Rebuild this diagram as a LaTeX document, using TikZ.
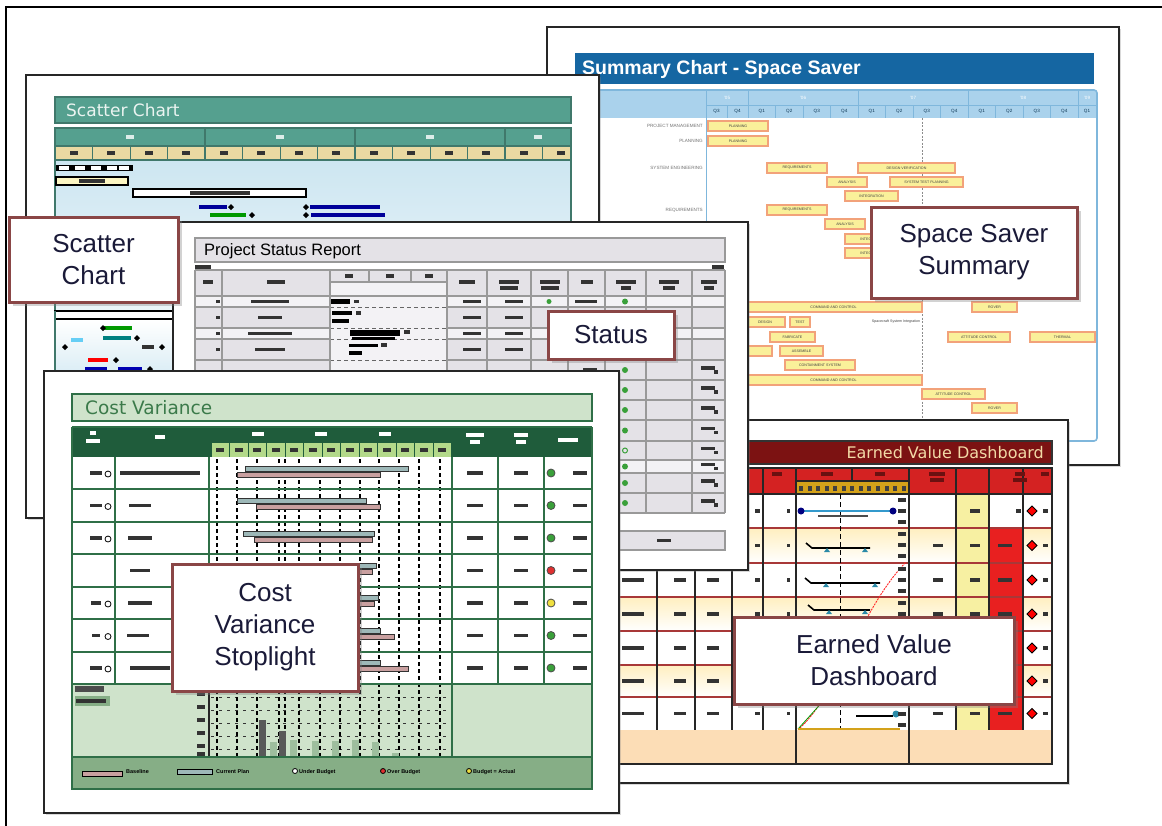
\documentclass[tikz,border=0pt]{standalone}
\usepackage{fontspec}
\setmainfont{Liberation Sans}
\newfontfamily\thinfont{DejaVu Sans}
\usepackage{tikz}
\usetikzlibrary{positioning,shadows,calc}

\definecolor{calloutred}{HTML}{8A4646}
\definecolor{callouttext}{HTML}{1A1A38}
\definecolor{sumblue}{HTML}{1566A2}
\definecolor{sumlight}{HTML}{AAD2EC}
\definecolor{sumedge}{HTML}{7FB7DC}
\definecolor{barfill}{HTML}{FAF09A}
\definecolor{baredge}{HTML}{F2A27A}
\definecolor{scteal}{HTML}{55A08F}
\definecolor{sctan}{HTML}{E9D9A2}
\definecolor{scsky}{HTML}{CDE6F1}
\definecolor{stgray}{HTML}{E4E2E7}
\definecolor{stpale}{HTML}{F3F2F5}
\definecolor{stedge}{HTML}{999999}
\definecolor{cvdark}{HTML}{1F5C3B}
\definecolor{cvlight}{HTML}{CFE3CB}
\definecolor{cvmid}{HTML}{86AE86}
\definecolor{cvq}{HTML}{B3D98A}
\definecolor{cvline}{HTML}{2F6F47}
\definecolor{cvtext}{HTML}{3B7A4A}
\definecolor{cvpink}{HTML}{C9A0A0}
\definecolor{cvteal}{HTML}{9DB8B8}
\definecolor{stopgreen}{HTML}{3AA03A}
\definecolor{stopred}{HTML}{E03030}
\definecolor{stopyellow}{HTML}{F0E040}
\definecolor{evdark}{HTML}{7C1212}
\definecolor{evred}{HTML}{D42222}
\definecolor{evbright}{HTML}{E82020}
\definecolor{evline}{HTML}{A83838}
\definecolor{evgold}{HTML}{D4A21A}
\definecolor{evcream}{HTML}{FFEFC0}
\definecolor{evyellow}{HTML}{F7F0A2}
\definecolor{evpeach}{HTML}{FCDDB6}
\definecolor{evtitle}{HTML}{F2D9A6}
\definecolor{evblue}{HTML}{3399CC}
\definecolor{evteal}{HTML}{2A8AA8}

\tikzset{
  sheet/.style={draw=black!85, line width=1.3pt, fill=white, drop shadow={opacity=.3, shadow xshift=2pt, shadow yshift=-2pt}},
  callout/.style={draw=calloutred, line width=3pt, fill=white, align=center, text=callouttext, inner sep=0pt,
    font=\fontsize{26}{32}\selectfont, drop shadow={opacity=.35, shadow xshift=4pt, shadow yshift=-4pt}},
  gbar/.style={draw=baredge, fill=barfill, line width=1.1pt},
  gtext/.style={font=\fontsize{3.6}{4}\selectfont, text=black!75, inner sep=0pt},
  tinytext/.style={font=\fontsize{4.6}{5}\selectfont, inner sep=0pt},
  dashv/.style={black, line width=1.1pt, dash pattern=on 4pt off 3pt},
  stgrid/.style={draw=stedge, line width=1.1pt},
  cvgrid/.style={draw=cvline, line width=1.4pt},
  evgrid/.style={draw=black!85, line width=1.1pt},
}

\newcommand{\inkmark}[4][black!80]{\fill[#1] (#2-#4/2,#3-1.8) rectangle (#2+#4/2,#3+1.8);}
\newcommand{\taskbar}[4]{\draw[gbar] (#1,#3-5) rectangle (#2,#3+5); \node[gtext] at ({(#1+#2)/2},#3) {#4};}
\newcommand{\scdot}[3][black]{\fill[#1] (#2,#3-3) -- (#2+3,#3) -- (#2,#3+3) -- (#2-3,#3) -- cycle;}
\newcommand{\evdiamond}[2]{\draw[black, line width=1pt, fill=red] (#1,#2-5) -- (#1+5,#2) -- (#1,#2+5) -- (#1-5,#2) -- cycle;}

\begin{document}
\begin{tikzpicture}[x=1pt, y=-1pt]
\useasboundingbox (0,0) rectangle (1162,825);

% summary chart, space saver
\path[sheet] (547,27) rectangle (1119,465);
\fill[sumblue] (575,53) rectangle (1094,84);
\node[anchor=west, text=white, font=\bfseries\fontsize{19.5}{19.5}\selectfont, inner sep=0pt] (sumtitle) at (582,69) {Summary Chart - Space Saver};
\fill[sumlight] (576,91) rectangle (1096,118);
\draw[sumedge, line width=1.6pt, rounded corners=3pt] (575,90) rectangle (1097,441);
\draw[sumedge] (706,105) -- (1096,105);
\foreach \xx in {706,748,858,968,1078} \draw[sumedge, line width=1pt] (\xx,91) -- (\xx,118);
\foreach \k in {1,...,12} \draw[sumedge, line width=.6pt] (748+27.5*\k,105) -- (748+27.5*\k,118);
\draw[sumedge, line width=.6pt] (727,105) -- (727,118);
\draw[sumedge] (706,118) -- (706,440);
\draw[black!45, dash pattern=on 2pt off 1.5pt] (922,118) -- (922,440);
\foreach \xx/\yr in {727/05,803/06,913/07,1023/08,1087/09} \node[tinytext, text=white] at (\xx,98) {'\yr};
\node[tinytext, text=sumblue!50!black] at (716.5,111.5) {Q3};
\node[tinytext, text=sumblue!50!black] at (737.5,111.5) {Q4};
\foreach \k in {0,...,11} {\pgfmathtruncatemacro\qq{mod(\k,4)+1}
  \node[tinytext, text=sumblue!50!black] at (761.75+27.5*\k,111.5) {Q\qq};}
\node[tinytext, text=sumblue!50!black] at (1087,111.5) {Q1};
\foreach \yy/\lbl in {126/PROJECT MANAGEMENT,141/PLANNING,168/SYSTEM ENGINEERING,210/REQUIREMENTS}
  \node[gtext, anchor=east, text=black!55, font=\fontsize{4.6}{5}\selectfont] at (703,\yy) {\lbl};
\foreach \xa/\xb/\yy/\lbl in {708/768/126/PLANNING, 708/768/141/PLANNING, 767/827/168/REQUIREMENTS,
    858/955/168/DESIGN VERIFICATION, 827/867/182/ANALYSIS, 890/963/182/SYSTEM TEST PLANNING,
    845/898/196/INTEGRATION, 767/827/210/REQUIREMENTS, 825/865/224/ANALYSIS, 845/900/239/INTEGRATION,
    845/900/253/INTEGRATION, 745/922/307/COMMAND AND CONTROL, 972/1017/307/ROVER, 745/785/322/DESIGN,
    790/810/322/TEST, 770/815/337/FABRICATE, 948/1010/337/ATTITUDE CONTROL, 1030/1095/337/THERMAL,
    780/823/351/ASSEMBLE, 785/855/365/CONTAINMENT SYSTEM, 745/922/380/COMMAND AND CONTROL,
    922/985/394/ATTITUDE CONTROL, 972/1017/408/ROVER}
  \taskbar{\xa}{\xb}{\yy}{\lbl};
\draw[gbar] (745,346) rectangle (772,356);
\node[gtext] at (896,322) {Spacecraft System Integration};

% earned value dashboard
\path[sheet] (560,420) rectangle (1068,783);
\draw[fill=evdark, draw=black!80, line width=1.2pt] (578,441) rectangle (1052,464);
\node[anchor=east, text=evtitle, font=\thinfont\fontsize{16}{16}\selectfont, inner sep=0pt] (evtitle) at (1044,452.5) {Earned Value Dashboard};
\fill[evred] (578,468) rectangle (1052,494);
\foreach \ya/\yb in {528/563,597/631,665/697} \shade[top color=evcream, bottom color=white] (578,\ya) rectangle (1052,\yb);
\fill[evyellow] (956,494) rectangle (989,730);
\fill[evbright] (989,528) rectangle (1023,730);
\fill[evpeach] (578,730) rectangle (1052,764);
\fill[evgold] (797,482) rectangle (908,494);
\foreach \k in {0,...,12} \fill[black!75] (799+8.55*\k,486) rectangle (803+8.55*\k,491);
\foreach \yy in {528,563,597,631,665,697} \draw[evline, line width=1.3pt] (578,\yy) -- (1052,\yy);
\foreach \xx in {657,695,732,763,796,909,956,989,1023} \draw[evgrid] (\xx,468) -- (\xx,730);
\draw[evgrid] (578,494) -- (1052,494) (796,481) -- (909,481) (852,468) -- (852,481) (796,730) -- (796,764) (909,730) -- (909,764);
\draw[evgrid] (578,468) rectangle (1052,764);
\foreach \xx/\ww in {777/10,827/12,880/10,937/16,1020/10,1045/8} \inkmark[evred!50!black]{\xx}{474}{\ww};
\foreach \xx in {937,1020} \inkmark[evred!50!black]{\xx}{480}{14};
\draw[black, line width=1pt, dash pattern=on 5pt off 3pt] (840,494) -- (840,730);
\draw[evblue, line width=2.5pt] (801,511) -- (893,511);
\fill[blue!50!black] (801,511) circle[radius=3.5pt] (893,511) circle[radius=3.5pt];
\draw[black!70, line width=1.5pt] (818,516) -- (868,516);
\foreach \xa/\xb/\yy in {806/870/548,805/880/583,808/870/610} {
  \draw[black, line width=1.6pt] (\xa,\yy-5) -- (\xa+6,\yy) -- (\xb,\yy);
  \fill[evteal] (\xa+18,\yy+4) -- (\xa+21,\yy) -- (\xa+24,\yy+4) -- cycle;
  \fill[evteal] (\xb-8,\yy+4) -- (\xb-5,\yy) -- (\xb-2,\yy+4) -- cycle;}
\draw[black, line width=2pt] (856,716) -- (893,716);
\fill[evteal] (896,714) circle[radius=3.5pt];
\draw[red!85, line width=.9pt, dash pattern=on 2pt off 1pt] (800,728) .. controls (840,690) and (860,610) .. (906,562);
\draw[green!60!black, line width=.8pt] (798,729) -- (826,698);
\draw[evgold, line width=1.5pt] (798,729) -- (900,729);
\foreach \yy in {494,528,563,597,631,665,697} {
  \inkmark{902}{\yy+6}{8} \inkmark{902}{\yy+17}{8} \inkmark{902}{\yy+28}{8}}
\foreach \yy in {511,545.5,580,614,648,681,713.5} {
  \evdiamond{1032}{\yy} \inkmark{1045}{\yy}{5} \inkmark{757}{\yy}{5} \inkmark{788}{\yy}{3}}
\foreach \yy in {580,614,648,681,713.5} {
  \inkmark{633}{\yy}{22} \inkmark{680}{\yy}{12} \inkmark{713}{\yy}{12}}
\foreach \yy/\ww in {545.5/10,580/10,614/10,713.5/10} \inkmark{938}{\yy}{\ww};
\foreach \yy in {511,545.5,580,614,648,681,713.5} \inkmark{975}{\yy}{10};
\foreach \yy in {545.5,580,614,648,681,713.5} \inkmark{1005}{\yy}{14};
\inkmark{1018}{511}{5}

% scatter chart
\path[sheet] (26,75) rectangle (599,518);
\draw[fill=scteal, draw=scteal!75!black, line width=1.5pt] (55,97) rectangle (571,123);
\node[anchor=west, text=white!88!scteal, font=\thinfont\fontsize{17}{17}\selectfont, inner sep=0pt] (sctitle) at (66,110.5) {Scatter Chart};
\fill[scteal] (55,128) rectangle (571,146);
\fill[sctan] (55,146) rectangle (571,160);
\shade[top color=scsky, bottom color=scsky!40] (55,160) rectangle (571,311);
\draw[scteal!75!black, line width=1.5pt] (55,128) rectangle (571,160);
\draw[scteal!75!black, line width=1.5pt] (55,146) -- (571,146) (55,160) -- (55,371) (571,160) -- (571,300);
\foreach \xx in {205,355,505} \draw[scteal!75!black, line width=1.5pt] (\xx,128) -- (\xx,160);
\foreach \k in {1,...,13} \draw[scteal!75!black, line width=1pt] (55+37.5*\k,146) -- (55+37.5*\k,160);
\foreach \xx in {130,280,430,538} \inkmark[white!80!scteal]{\xx}{137}{8};
\foreach \k in {0,...,13} \inkmark{73.75+37.5*\k}{153}{8};
\fill[black] (56,165) rectangle (133,171);
\foreach \xx in {64,80,96,112,124} \inkmark[white]{\xx}{168}{10};
\draw[black, line width=1.2pt, fill=barfill!60] (56,177) rectangle (128,185);
\inkmark{92}{181}{26}
\draw[black, line width=1.2pt, fill=white] (133,189) rectangle (306,197);
\inkmark{220}{193}{60}
\inkmark[blue!60!black]{213}{207}{28} \scdot{231}{207}
\inkmark[green!60!black]{228}{215}{36} \scdot{252}{215}
\inkmark[blue!60!black]{345}{207}{70} \scdot{306}{207}
\inkmark[blue!60!black]{348}{215}{74} \scdot{306}{215}
\draw[black, line width=1.2pt, fill=white] (55,311) rectangle (178,319);
\shade[top color=white, bottom color=scsky!70] (56,320) rectangle (178,371);
\draw[scteal!75!black, line width=1.5pt] (55,311) -- (55,371);
\inkmark[green!60!black]{118}{328}{28} \scdot{103}{328}
\inkmark[teal]{117}{338}{28} \scdot{137}{338}
\inkmark[cyan!60]{77}{340}{12} \scdot{65}{347}
\inkmark{148}{347}{12} \scdot{162}{347}
\inkmark[red]{98}{360}{20} \scdot{116}{360}
\inkmark[blue!70!black]{96}{369}{22} \inkmark[blue!70!black]{130}{369}{24} \scdot{150}{369}

% project status report
\path[sheet] (173,222) rectangle (748,570);
\draw[fill=stgray, draw=stedge, line width=1.5pt] (195,238) rectangle (725,262);
\node[anchor=west, font=\fontsize{16.5}{16.5}\selectfont, inner sep=0pt] (sttitle) at (204,251) {Project Status Report};
\inkmark{203}{267}{16} \inkmark{718}{267}{12}
\fill[stgray] (195,270) rectangle (725,513);
\foreach \ya/\yb in {296/307,328/339,460/473} \fill[stpale] (195,\ya) rectangle (725,\yb);
\fill[stpale] (330,282) rectangle (447,513);
\foreach \yy in {307,328,339,360,380,400,420,441,460,473,493} {
  \draw[stgrid] (195,\yy) -- (330,\yy) (447,\yy) -- (725,\yy);
  \draw[black!60, line width=1pt, dash pattern=on 4pt off 3pt] (330,\yy) -- (447,\yy);}
\foreach \xx in {195,222,330,447,487,531,568,605,646,692,725} \draw[stgrid] (\xx,270) -- (\xx,513);
\draw[stgrid] (195,270) -- (725,270) (195,296) -- (725,296) (195,513) -- (725,513) (330,282) -- (447,282) (369,270) -- (369,282) (411,270) -- (411,282);
\foreach \xx/\ww in {208/10,276/18,467/16,509/20,549.5/20,586.5/12,625.5/20,669/20,708.5/16} \inkmark{\xx}{282}{\ww};
\foreach \xx/\ww in {509/18,549.5/18,625.5/10,669/12,708.5/10} \inkmark{\xx}{288}{\ww};
\foreach \xx in {349,390,429} \inkmark{\xx}{276}{8};
\foreach \yy/\ww in {301.5/38,317.5/24,333.5/44,349.5/30} {\inkmark{218}{\yy}{4} \inkmark{270}{\yy}{\ww}}
\foreach \yy in {301.5,317.5,333.5,349.5} {\inkmark{472}{\yy}{18} \inkmark{514}{\yy}{18}}
\inkmark{586}{301.5}{22} \fill[stopgreen] (549,301.5) circle[radius=2.5pt];
\foreach \yy in {370,390,410,430.5,450.5,466.5,483,503} {\inkmark{590}{\yy}{14} \inkmark{708}{\yy-2}{14} \inkmark{716}{\yy+2}{4}}
\foreach \yy in {301.5,370,390,410,430.5,466.5,483,503} \fill[stopgreen] (625,\yy) circle[radius=3pt];
\draw[stopgreen, line width=1pt] (625,450.5) circle[radius=2.5pt];
\fill[black] (331,299) rectangle (350,304); \inkmark{356}{301.5}{5}
\fill[black] (332,311) rectangle (352,315); \fill[black] (332,319) rectangle (349,323); \inkmark{358}{313}{5}
\fill[black] (350,330) rectangle (400,336); \fill[black] (352,337) rectangle (395,340); \inkmark{407}{332}{6}
\fill[black] (349,344) rectangle (378,347); \fill[black] (349,351) rectangle (362,355); \inkmark{384}{345}{6}
\draw[fill=stgray, draw=stedge, line width=1.5pt] (590,531) rectangle (725,550);
\inkmark{664}{540.5}{14}

% cost variance
\path[sheet] (44,371) rectangle (619,813);
\draw[fill=cvlight, draw=cvline, line width=1.5pt] (72,394) rectangle (592,421);
\node[anchor=west, text=cvtext, font=\thinfont\fontsize{18.5}{18.5}\selectfont, inner sep=0pt] (cvtitle) at (85,408) {Cost Variance};
\fill[cvdark] (72,427) rectangle (592,457);
\fill[cvq] (211,443) rectangle (452,457);
\foreach \k in {0,...,13} \draw[cvdark, line width=.8pt] (211+18.5*\k,443) -- (211+18.5*\k,457);
\foreach \k in {0,...,12} \inkmark{220.25+18.5*\k}{450}{8};
\foreach \xx/\yy/\ww in {93/433/6,93/441/14,160/437/10,258/434/12,321/434/12,385/434/12,475/435/18,475/442/10,521/435/14,521/442/10,568/440/20}
  \inkmark[white]{\xx}{\yy}{\ww};
\fill[white] (72,457) rectangle (592,684);
\fill[cvlight] (72,684) rectangle (592,756);
\foreach \yy in {697,710,723,736,749} \draw[black!80, line width=1pt, dash pattern=on 3pt off 5pt] (211,\yy) -- (452,\yy);
\foreach \xx in {217,237,257,279,285,299,320,340,360,379,399,419,440} \draw[dashv] (\xx,459) -- (\xx,756);
\foreach \yy in {489,522,554,587,619,652,684} \draw[cvgrid] (72,\yy) -- (592,\yy);
\foreach \xx in {115,209,452,498,544} \draw[cvgrid] (\xx,457) -- (\xx,684);
\draw[cvgrid] (72,427) -- (72,789) (592,427) -- (592,789) (72,427) -- (592,427) (452,684) -- (452,756);
\draw[black!85, line width=1.5pt] (209,684) -- (209,756);
\foreach \xa/\xb/\ya/\xc/\xd/\yb in {245/408/469/237/380/475, 237/366/501/256/380/507, 243/374/534/254/372/540,
    260/376/566/262/372/572, 330/378/598/330/374/604, 300/380/631/300/394/637, 290/380/663/290/408/669} {
  \draw[black!80, fill=cvteal, line width=.8pt] (\xa,\ya-2.5) rectangle (\xb,\ya+2.5);
  \draw[black!80, fill=cvpink, line width=.8pt] (\xc,\yb-2.5) rectangle (\xd,\yb+2.5);}
\foreach \yy/\col in {473/stopgreen,505.5/stopgreen,538/stopgreen,570.5/stopred,603/stopyellow,635.5/stopgreen,668/stopgreen}
  {\draw[fill=\col, draw=black!70, line width=.8pt] (551,\yy) circle[radius=4pt]; \inkmark{580}{\yy}{14} \inkmark{475}{\yy}{16} \inkmark{521}{\yy}{14}}
\foreach \yy/\ww in {473/12,505.5/12,538/12,603/10,635.5/8,668/12} {\inkmark{96}{\yy}{\ww} \draw[black, line width=.8pt] (108,\yy+1) circle[radius=3pt];}
\foreach \xx/\yy/\ww in {160/473/80,140/505.5/22,140/538/24,140/570.5/20,140/603/24,138/635.5/22,150/668/40}
  \inkmark{\xx}{\yy}{\ww};
\fill[black!70] (75,686) rectangle (104,692);
\fill[cvmid] (75,696) rectangle (110,706);
\inkmark{91}{701}{30}
\foreach \yy in {694,707,720,733,746,754} \inkmark{201}{\yy}{8};
\foreach \xx/\yy in {270/742,290/740,312/741,332/741,352/740,372/742,392/753} \fill[cvmid!80] (\xx,\yy) rectangle (\xx+7,756);
\fill[black!65] (259,720) rectangle (266,756);
\fill[black!65] (279,731) rectangle (286,756);
\draw[fill=cvmid, draw=cvline, line width=1.5pt] (72,757) rectangle (592,789);
\draw[fill=cvpink, draw=black, line width=1pt] (82,771) rectangle (122,776);
\draw[fill=cvteal, draw=black, line width=1pt] (177,769) rectangle (212,774);
\draw[black, fill=white, line width=.8pt] (295,771) circle[radius=2.5pt];
\draw[black, fill=stopred, line width=.8pt] (383,771) circle[radius=2.5pt];
\draw[black, fill=stopyellow, line width=.8pt] (469,771) circle[radius=2.5pt];
\foreach \xx/\lbl in {126/Baseline,216/Current Plan,299/Under Budget,387/Over Budget,473/Budget = Actual}
  \node[tinytext, anchor=west, font=\bfseries\fontsize{5.5}{6}\selectfont] at (\xx,772) {\lbl};

% callouts
\node[callout, minimum width=169pt, minimum height=85pt] (scatternote) at (93.5,259.5) {Scatter\\Chart};
\node[callout, minimum width=126pt, minimum height=48pt] (statusnote) at (611,335) {Status};
\node[callout, minimum width=206pt, minimum height=91pt] (savernote) at (974,252.5) {Space Saver\\Summary};
\node[callout, minimum width=186pt, minimum height=127pt] (stoplightnote) at (265,627.5) {Cost\\Variance\\Stoplight};
\node[callout, minimum width=280pt, minimum height=87pt] (evnote) at (874,660.5) {Earned Value\\Dashboard};

% frame
\draw[black, line width=2.5pt] (6,826) -- (6,7) -- (1163,7);
\end{tikzpicture}
\end{document}
